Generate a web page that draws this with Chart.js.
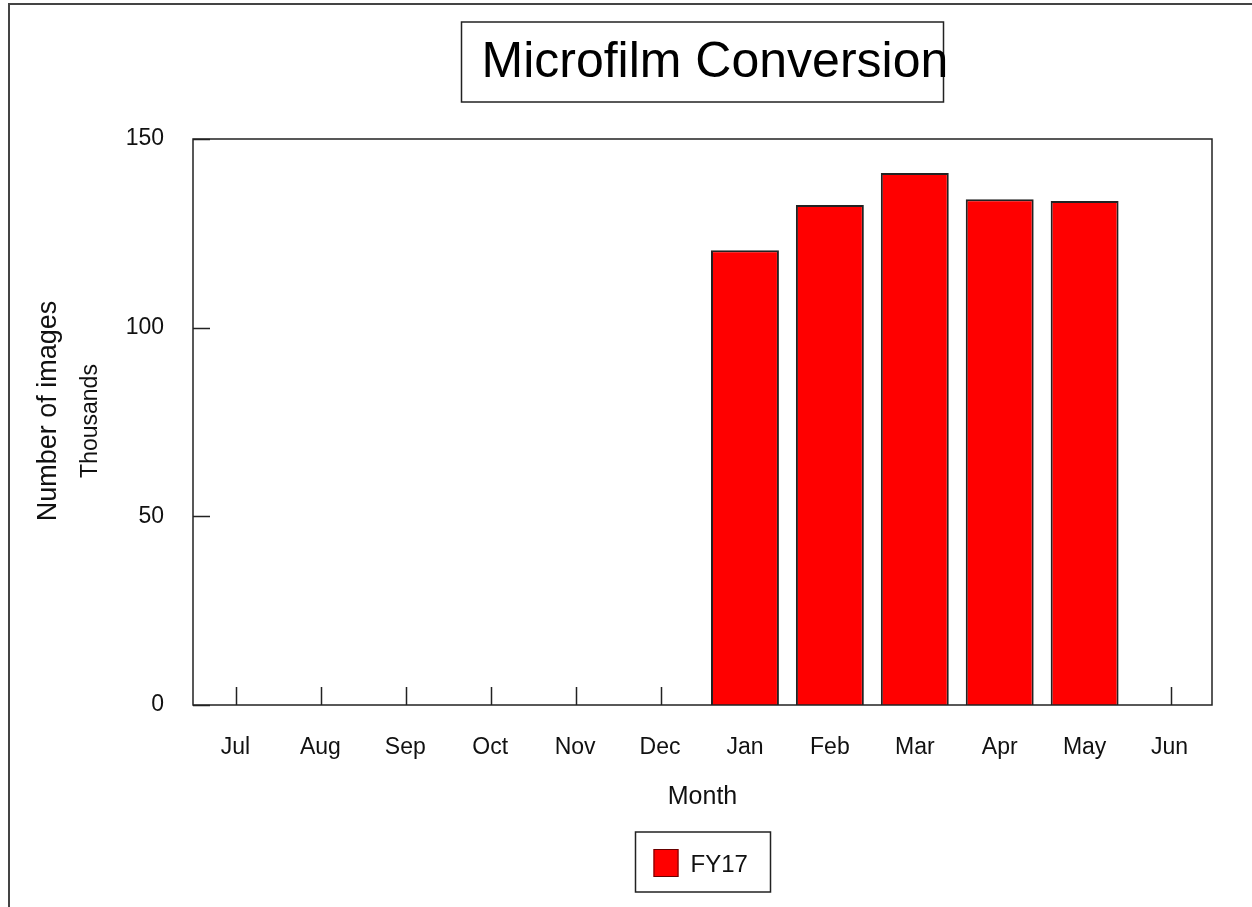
<!DOCTYPE html>
<html>
<head>
<meta charset="utf-8">
<title>Microfilm Conversion</title>
<script src="https://cdn.jsdelivr.net/npm/chart.js@4.4.1/dist/chart.umd.min.js"></script>
<style>
  html, body { margin: 0; padding: 0; background: #fff; }
  canvas { display: block; }
</style>
</head>
<body>
<canvas id="mfChart" width="1252" height="907"></canvas>
<script>
// data (thousands of images)
var months = ['Jul', 'Aug', 'Sep', 'Oct', 'Nov', 'Dec', 'Jan', 'Feb', 'Mar', 'Apr', 'May', 'Jun'];
var fy17 = [null, null, null, null, null, null, 120.5, 132.5, 141, 134, 133.6, null];
var yTicks = [0, 50, 100, 150];
var seriesName = 'FY17';

var FONT = "'Liberation Sans', Arial, sans-serif";

// frame, inner tick marks, boxed title, axis label and legend
var chartDecor = {
    id: 'chartDecor',
    beforeDraw: function (chart) {
        var ctx = chart.ctx;
        ctx.save();
        ctx.fillStyle = '#fff';
        ctx.fillRect(0, 0, chart.width, chart.height);
        // outer frame (only top and left visible)
        ctx.strokeStyle = '#444';
        ctx.lineWidth = 2;
        ctx.beginPath();
        ctx.moveTo(9, chart.height);
        ctx.lineTo(9, 4);
        ctx.lineTo(chart.width, 4);
        ctx.stroke();
        ctx.restore();
    },
    beforeDatasetsDraw: function (chart) {
        var ctx = chart.ctx, a = chart.chartArea;
        var x = chart.scales.x, y = chart.scales.y;
        ctx.save();
        ctx.strokeStyle = '#222';
        ctx.lineWidth = 1.5;
        ctx.beginPath();
        for (var i = 0; i < months.length; i++) {
            var px = Math.round(x.getPixelForTick(i)) + 1.5;
            ctx.moveTo(px, a.bottom);
            ctx.lineTo(px, a.bottom - 18);
        }
        yTicks.forEach(function (v) {
            var py = Math.round(y.getPixelForValue(v)) + 0.5;
            ctx.moveTo(a.left, py);
            ctx.lineTo(a.left + 17, py);
        });
        ctx.stroke();
        ctx.restore();
    },
    afterDatasetsDraw: function (chart) {
        var ctx = chart.ctx, a = chart.chartArea;
        ctx.save();
        ctx.strokeStyle = '#222';
        ctx.lineWidth = 1.5;
        ctx.strokeRect(a.left, a.top, a.right - a.left, a.bottom - a.top);
        ctx.restore();
    },
    afterDraw: function (chart) {
        var ctx = chart.ctx, a = chart.chartArea;
        var cx = (a.left + a.right) / 2;
        ctx.save();

        // boxed title
        ctx.strokeStyle = '#222';
        ctx.lineWidth = 1.5;
        ctx.strokeRect(cx - 241, 22, 482, 80);
        ctx.fillStyle = '#000';
        ctx.font = '50px ' + FONT;
        ctx.textAlign = 'left';
        ctx.textBaseline = 'alphabetic';
        ctx.fillText('Microfilm Conversion', cx - 221, 77);

        // y axis label, two lines
        ctx.fillStyle = '#111';
        ctx.textAlign = 'center';
        ctx.textBaseline = 'middle';
        ctx.translate(49, 411);
        ctx.rotate(-Math.PI / 2);
        ctx.font = '27px ' + FONT;
        ctx.fillText('Number of images', 0, 0);
        ctx.font = '23px ' + FONT;
        ctx.fillText('Thousands', -10, 42);
        ctx.setTransform(1, 0, 0, 1, 0, 0);

        // legend box
        var ds = chart.data.datasets[0];
        ctx.strokeStyle = '#222';
        ctx.lineWidth = 1.5;
        ctx.strokeRect(cx - 67, 832, 135, 60);
        ctx.fillStyle = ds.backgroundColor;
        ctx.fillRect(cx - 49, 849, 25, 28);
        ctx.strokeStyle = '#600';
        ctx.lineWidth = 1;
        ctx.strokeRect(cx - 49 + 0.5, 849.5, 24, 27);
        ctx.fillStyle = '#111';
        ctx.font = '24px ' + FONT;
        ctx.textAlign = 'left';
        ctx.textBaseline = 'middle';
        ctx.fillText(ds.label, cx - 12, 865);

        ctx.restore();
    }
};

var ctx = document.getElementById('mfChart').getContext('2d');
var chart = new Chart(ctx, {
    type: 'bar',
    data: {
        labels: months,
        datasets: [{
            label: seriesName,
            data: fy17,
            backgroundColor: '#ff0000',
            borderColor: '#222',
            borderWidth: 2,
            barPercentage: 0.8,
            categoryPercentage: 1.0
        }]
    },
    options: {
        responsive: false,
        animation: false,
        layout: {
            padding: { top: 139, right: 40, bottom: 92, left: 0 }
        },
        plugins: {
            legend: { display: false },
            title: { display: false },
            tooltip: { enabled: false }
        },
        scales: {
            x: {
                offset: true,
                grid: { display: false, drawTicks: false },
                border: { display: false },
                ticks: {
                    color: '#111',
                    font: { family: FONT, size: 23 },
                    padding: 29,
                    maxRotation: 0,
                    autoSkip: false
                },
                title: {
                    display: true,
                    text: 'Month',
                    color: '#111',
                    font: { family: FONT, size: 25 },
                    padding: { top: 0, bottom: 3 }
                },
                afterFit: function (scale) { scale.height = 110; }
            },
            y: {
                min: 0,
                max: 150,
                grid: { display: false, drawTicks: false },
                border: { display: false },
                ticks: {
                    stepSize: 50,
                    color: '#111',
                    font: { family: FONT, size: 23 },
                    padding: 29
                },
                afterBuildTicks: function (scale) {
                    scale.ticks = yTicks.map(function (v) { return { value: v }; });
                },
                afterFit: function (scale) { scale.width = 193; }
            }
        }
    },
    plugins: [chartDecor]
});
</script>
</body>
</html>
